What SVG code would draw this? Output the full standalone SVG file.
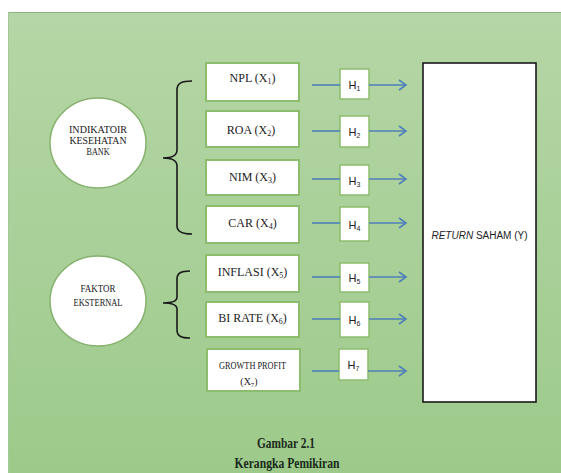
<svg xmlns="http://www.w3.org/2000/svg" width="561" height="473" viewBox="0 0 561 473">
<defs>
<linearGradient id="bg" x1="0" y1="0" x2="0" y2="1">
<stop offset="0" stop-color="#b5d6a6"/>
<stop offset="1" stop-color="#9dca8b"/>
</linearGradient>
<marker id="arr" markerWidth="12" markerHeight="12" refX="10" refY="6" orient="auto" markerUnits="userSpaceOnUse">
<path d="M3,1 L10,6 L3,11" fill="none" stroke="#4f7fba" stroke-width="1.6"/>
</marker>
<style>
.box{fill:#fff;stroke:#8cbd6e;stroke-width:2}
.hbox{fill:#fff;stroke:#8cbd6e;stroke-width:1.5}
.circ{fill:#fff;stroke:#86b26e;stroke-width:1.5}
.ln{stroke:#4f7fba;stroke-width:1.6;fill:none}
.br{fill:none;stroke:#1a1a1a;stroke-width:1.6}
.st{font-family:"Liberation Serif","Times New Roman",serif;font-size:12px;fill:#222;text-anchor:middle}
.sm{font-family:"Liberation Serif","Times New Roman",serif;font-size:10px;fill:#1a1a1a;text-anchor:middle}
.h{font-family:"Liberation Sans",Arial,sans-serif;font-size:11px;fill:#222;text-anchor:middle}
.cap{font-family:"Liberation Serif","Times New Roman",serif;font-size:15px;font-weight:bold;fill:#1a2a1a;text-anchor:middle}
</style>
</defs>
<rect x="8" y="12" width="553" height="461" fill="url(#bg)"/>
<line x1="8" y1="12.5" x2="561" y2="12.5" stroke="#8db27c" stroke-width="1"/>
<line x1="8.5" y1="12" x2="8.5" y2="473" stroke="#a5c996" stroke-width="1"/>

<g id="indikator">
<ellipse class="circ" cx="98" cy="143" rx="48" ry="45"/>
<text class="sm" x="98" y="132.5" textLength="58" lengthAdjust="spacingAndGlyphs">INDIKATOIR</text>
<text class="sm" x="98" y="143.5" textLength="57" lengthAdjust="spacingAndGlyphs">KESEHATAN</text>
<text class="sm" x="98" y="154.5" textLength="23" lengthAdjust="spacingAndGlyphs">BANK</text>
</g>
<g id="faktor">
<ellipse class="circ" cx="98" cy="301" rx="48" ry="45"/>
<text class="sm" x="98" y="292" textLength="35" lengthAdjust="spacingAndGlyphs">FAKTOR</text>
<text class="sm" x="98" y="306" textLength="49" lengthAdjust="spacingAndGlyphs">EKSTERNAL</text>
</g>

<g id="braces">
<path class="br" d="M192,81 C182,81 177,83 177,90 L177,150 C177,155 172,158 163,158 C172,158 177,161 177,166 L177,226 C177,232 182,234 192,234"/>
<path class="br" d="M190,271 C181,271 177,273 177,279 L177,297 C177,301 172,303 163,303 C172,303 177,305 177,309 L177,330 C177,336 181,338 190,338"/>
</g>

<g id="npl"><rect class="box" x="206" y="63" width="93" height="38"/>
<text class="st" x="252.5" y="82">NPL (X<tspan font-size="8" dy="2">1</tspan><tspan dy="-2">)</tspan></text></g>
<g id="roa"><rect class="box" x="206" y="111" width="93" height="36"/>
<text class="st" x="251" y="134">ROA (X<tspan font-size="8" dy="2">2</tspan><tspan dy="-2">)</tspan></text></g>
<g id="nim"><rect class="box" x="206" y="160" width="93" height="35"/>
<text class="st" x="252.5" y="181">NIM (X<tspan font-size="8" dy="2">3</tspan><tspan dy="-2">)</tspan></text></g>
<g id="car"><rect class="box" x="206" y="206" width="93" height="37"/>
<text class="st" x="252.5" y="227">CAR (X<tspan font-size="8" dy="2">4</tspan><tspan dy="-2">)</tspan></text></g>
<g id="inflasi"><rect class="box" x="206" y="255" width="93" height="37"/>
<text class="st" x="252.5" y="276" font-size="11.5">INFLASI (X<tspan font-size="8" dy="2">5</tspan><tspan dy="-2">)</tspan></text></g>
<g id="birate"><rect class="box" x="206" y="302" width="93" height="35"/>
<text class="st" x="252.5" y="322" font-size="11.5">BI RATE (X<tspan font-size="8" dy="2">6</tspan><tspan dy="-2">)</tspan></text></g>
<g id="growth"><rect class="box" x="207" y="349" width="93" height="42"/>
<text class="sm" x="252.5" y="368.5" textLength="67" lengthAdjust="spacingAndGlyphs">GROWTH PROFIT</text>
<text class="sm" x="249" y="385">(X<tspan font-size="7" dy="2">7</tspan><tspan dy="-2">)</tspan></text></g>

<g id="h-nodes">
<g id="h1"><rect class="hbox" x="340" y="69" width="29" height="30"/><text class="h" x="354.5" y="89">H<tspan font-size="7" dy="2">1</tspan></text></g>
<g id="h2"><rect class="hbox" x="340" y="116" width="29" height="31"/><text class="h" x="354.5" y="136">H<tspan font-size="7" dy="2">2</tspan></text></g>
<g id="h3"><rect class="hbox" x="340" y="165" width="29" height="30"/><text class="h" x="354.5" y="185">H<tspan font-size="7" dy="2">3</tspan></text></g>
<g id="h4"><rect class="hbox" x="340" y="207" width="29" height="34"/><text class="h" x="354.5" y="229">H<tspan font-size="7" dy="2">4</tspan></text></g>
<g id="h5"><rect class="hbox" x="340" y="263" width="29" height="29"/><text class="h" x="354.5" y="282">H<tspan font-size="7" dy="2">5</tspan></text></g>
<g id="h6"><rect class="hbox" x="340" y="302" width="29" height="35"/><text class="h" x="354.5" y="324">H<tspan font-size="7" dy="2">6</tspan></text></g>
<g id="h7"><rect class="hbox" x="339" y="349" width="29" height="31"/><text class="h" x="353.5" y="369">H<tspan font-size="7" dy="2">7</tspan></text></g>
</g>

<g id="return">
<rect x="423" y="63" width="113" height="339" fill="#fff" stroke="#1a1a1a" stroke-width="1.6"/>
<text x="479.5" y="239" font-family="'Liberation Sans',Arial,sans-serif" font-size="10" fill="#222" text-anchor="middle"><tspan font-style="italic">RETURN</tspan> SAHAM (Y)</text>
</g>

<g id="connectors">
<line class="ln" x1="312" y1="85" x2="340" y2="85"/><line class="ln" x1="369" y1="85" x2="406" y2="85" marker-end="url(#arr)"/>
<line class="ln" x1="312" y1="131" x2="340" y2="131"/><line class="ln" x1="369" y1="131" x2="406" y2="131" marker-end="url(#arr)"/>
<line class="ln" x1="312" y1="179" x2="340" y2="179"/><line class="ln" x1="369" y1="179" x2="406" y2="179" marker-end="url(#arr)"/>
<line class="ln" x1="312" y1="223" x2="340" y2="223"/><line class="ln" x1="369" y1="223" x2="406" y2="223" marker-end="url(#arr)"/>
<line class="ln" x1="312" y1="277" x2="340" y2="277"/><line class="ln" x1="369" y1="277" x2="406" y2="277" marker-end="url(#arr)"/>
<line class="ln" x1="312" y1="319" x2="340" y2="319"/><line class="ln" x1="369" y1="319" x2="406" y2="319" marker-end="url(#arr)"/>
<line class="ln" x1="312" y1="371" x2="339" y2="371"/><line class="ln" x1="368" y1="371" x2="406" y2="371" marker-end="url(#arr)"/>
</g>

<g id="caption">
<text class="cap" x="286" y="448" textLength="58" lengthAdjust="spacingAndGlyphs">Gambar 2.1</text>
<text class="cap" x="287" y="468" textLength="105" lengthAdjust="spacingAndGlyphs">Kerangka Pemikiran</text>
</g>
</svg>
